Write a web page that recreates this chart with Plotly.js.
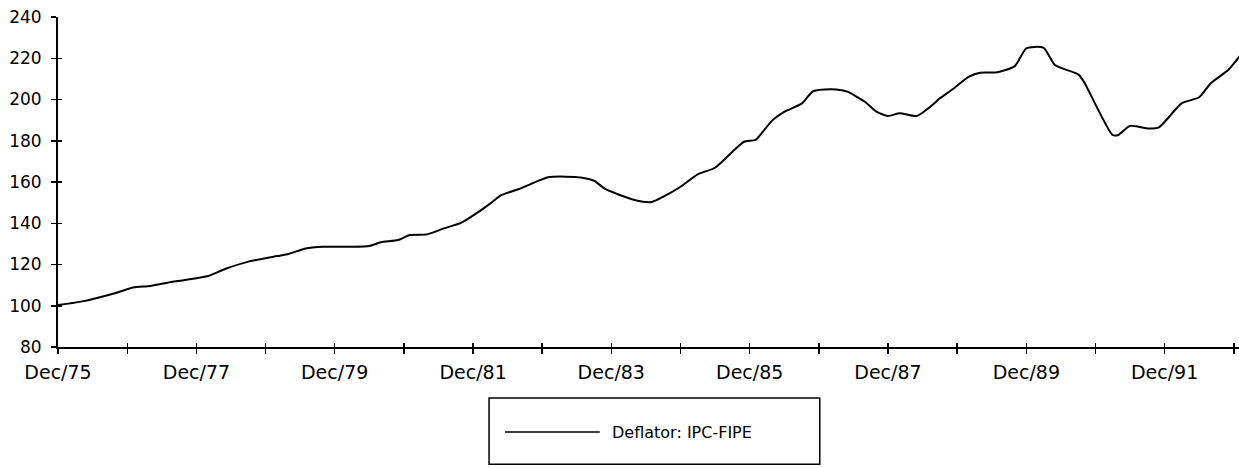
<!DOCTYPE html>
<html>
<head>
<meta charset="utf-8">
<script src="https://cdn.plot.ly/plotly-3.0.1.min.js"></script>
<style>
  html, body { margin: 0; padding: 0; background: #ffffff; }
  #chart { width: 1239px; height: 468px; }
</style>
</head>
<body>
<div id="chart"></div>
<script>
const months = [
  "1975-12","1976-04","1976-10","1977-01","1977-04","1977-07","1977-10",
  "1978-02","1978-05","1978-09","1979-02","1979-04","1979-07","1979-10",
  "1980-03","1980-06","1980-08","1980-11","1981-01","1981-04","1981-07","1981-10",
  "1982-01","1982-03","1982-05","1982-08","1982-10",
  "1983-01","1983-04","1983-07","1983-09","1983-11",
  "1984-01","1984-04","1984-07","1984-09","1984-12",
  "1985-03","1985-06","1985-09","1985-11",
  "1986-01","1986-02","1986-04","1986-06","1986-09","1986-11",
  "1987-02","1987-04","1987-05","1987-08","1987-10","1987-12",
  "1988-02","1988-05","1988-07","1988-09","1988-11",
  "1989-02","1989-04","1989-07","1989-10","1989-12",
  "1990-03","1990-05","1990-09","1990-10",
  "1991-03","1991-04","1991-06","1991-09","1991-11",
  "1992-03","1992-06","1992-08","1992-11","1992-12","1993-01"
];
const deflatorIPCFIPE = [
  100.3,102.0,106.2,108.8,109.6,111.2,112.5,
  114.4,117.8,121.4,124.1,125.1,127.8,128.6,
  128.6,129.0,130.8,131.9,134.3,134.6,137.5,140.3,
  145.6,149.5,153.7,156.6,159.0,
  162.3,162.6,162.1,160.6,156.5,
  154.2,151.3,150.3,152.9,157.7,
  163.7,166.9,174.7,179.5,
  180.4,183.6,190.0,194.0,198.0,204.0,
  205.0,204.5,203.8,198.9,194.1,192.0,
  193.3,192.0,195.7,200.6,204.6,
  211.1,213.0,213.2,216.2,224.8,
  225.1,216.7,212.2,208.6,
  182.8,182.8,187.2,186.0,186.5,
  198.2,201.1,207.9,214.3,217.5,221.0
];
const seriesName = "Deflator: IPC-FIPE";
const yTicks = [80,100,120,140,160,180,200,220,240];

const FONT = "DejaVu Sans, Liberation Sans, sans-serif";

const xDates = months.map(m => m + "-01");
const xRange = ["1975-12-01", "1992-12-28"];
const yRange = [80, 240];

const trace = {
  x: xDates,
  y: deflatorIPCFIPE,
  type: "scatter",
  mode: "lines",
  name: seriesName,
  line: { color: "#000000", width: 2, shape: "spline", smoothing: 0.6 },
  showlegend: false,
  hoverinfo: "x+y"
};

// invisible copies of the series on the overlay axes, so the inner halves of the cross ticks are drawn
const overlayX = {
  x: xDates, y: deflatorIPCFIPE, xaxis: "x2", yaxis: "y",
  type: "scatter", mode: "lines", line: { width: 0, color: "rgba(0,0,0,0)" },
  showlegend: false, hoverinfo: "skip"
};
const overlayY = {
  x: xDates, y: deflatorIPCFIPE, xaxis: "x", yaxis: "y2",
  type: "scatter", mode: "lines", line: { width: 0, color: "rgba(0,0,0,0)" },
  showlegend: false, hoverinfo: "skip"
};

const layout = {
  width: 1239,
  height: 468,
  margin: { l: 58, r: 0, t: 17, b: 121, pad: 0 },
  paper_bgcolor: "#ffffff",
  plot_bgcolor: "#ffffff",
  showlegend: false,
  font: { family: FONT, color: "#000000", size: 17 },
  xaxis: {
    type: "date",
    range: xRange,
    tick0: "1975-12-01",
    dtick: "M24",
    tickformat: "%b/%y",
    ticks: "outside",
    ticklen: 5,
    tickwidth: 1.5,
    tickcolor: "#000000",
    minor: { dtick: "M12", tick0: "1975-12-01", ticks: "outside", ticklen: 5, tickwidth: 1.5, tickcolor: "#000000", showgrid: false },
    showline: true,
    linecolor: "#000000",
    linewidth: 2,
    showgrid: false,
    zeroline: false,
    ticklabelstandoff: 2,
    tickfont: { family: FONT, size: 19, color: "#000000" },
    fixedrange: true
  },
  xaxis2: {
    type: "date",
    overlaying: "x",
    anchor: "y",
    side: "bottom",
    range: xRange,
    tick0: "1975-12-01",
    dtick: "M12",
    ticks: "inside",
    ticklen: 4,
    tickwidth: 1.5,
    tickcolor: "#000000",
    showticklabels: false,
    showline: false,
    showgrid: false,
    zeroline: false
  },
  yaxis: {
    range: yRange,
    tickvals: yTicks,
    ticktext: yTicks.map(String),
    ticks: "outside",
    ticklen: 5,
    tickwidth: 1.5,
    tickcolor: "#000000",
    showline: true,
    linecolor: "#000000",
    linewidth: 2,
    showgrid: false,
    zeroline: false,
    ticklabelstandoff: 6,
    tickfont: { family: FONT, size: 17, color: "#000000" },
    fixedrange: true
  },
  yaxis2: {
    overlaying: "y",
    anchor: "x",
    side: "left",
    range: yRange,
    tickvals: yTicks,
    ticks: "inside",
    ticklen: 4,
    tickwidth: 1.5,
    tickcolor: "#000000",
    showticklabels: false,
    showline: false,
    showgrid: false,
    zeroline: false
  },
  shapes: [
    // legend box
    { type: "rect", xref: "paper", yref: "paper",
      x0: 0.365, x1: 0.645, y0: -0.355, y1: -0.1545,
      line: { color: "#000000", width: 1.5 }, fillcolor: "rgba(0,0,0,0)" },
    // legend line sample
    { type: "line", xref: "paper", yref: "paper",
      x0: 0.3785, x1: 0.4588, y0: -0.2576, y1: -0.2576,
      line: { color: "#000000", width: 1.5 } }
  ],
  annotations: [
    { xref: "paper", yref: "paper", x: 0.4674, y: -0.2576,
      xanchor: "left", yanchor: "middle", showarrow: false,
      text: seriesName, font: { family: FONT, size: 16, color: "#000000" } }
  ]
};

Plotly.newPlot("chart", [trace, overlayX, overlayY], layout, { staticPlot: true, displayModeBar: false });
</script>
</body>
</html>
